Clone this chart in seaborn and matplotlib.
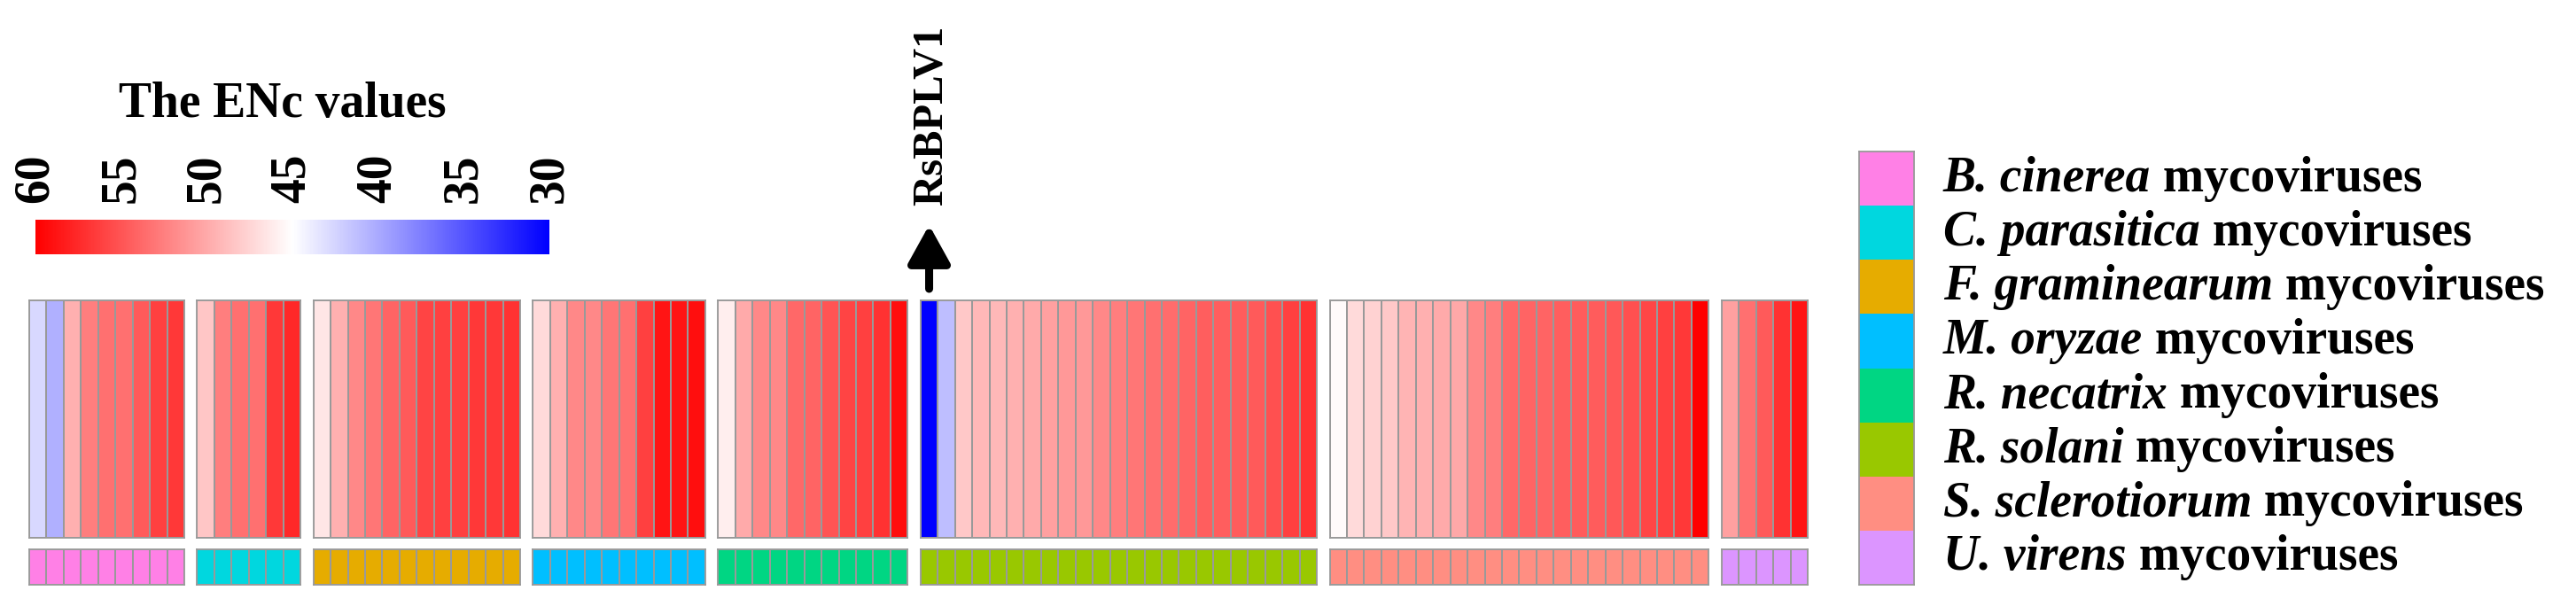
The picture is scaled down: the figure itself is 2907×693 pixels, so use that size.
import numpy as np
import matplotlib
matplotlib.use('Agg')
import matplotlib.pyplot as plt
import matplotlib.transforms as mtransforms
from matplotlib.colors import LinearSegmentedColormap, ListedColormap
import seaborn as sns

# host groups (order as in legend and heatmap)
hosts = ['B. cinerea', 'C. parasitica', 'F. graminearum', 'M. oryzae',
         'R. necatrix', 'R. solani', 'S. sclerotiorum', 'U. virens']
host_colors = ['#FF80E6', '#00D7DF', '#E6AC00', '#00BFFF',
               '#00D683', '#99C800', '#FF8E82', '#DC95FF']

# ENc values
enc_bc = [42.7, 40.4, 49.6, 52.5, 53.4, 53.4, 54.7, 56.2, 56.7]
enc_cp = [48.3, 52.5, 53.4, 53.4, 56.7, 57.6]
enc_fg = [46.5, 49.6, 52.0, 53.0, 54.1, 54.7, 55.9, 56.2, 56.2, 56.7, 56.7, 57.0]
enc_mo = [47.2, 49.6, 52.0, 52.0, 53.0, 53.4, 56.2, 58.8, 58.8, 59.1]
enc_rn = [46.0, 50.0, 52.0, 52.0, 53.9, 54.1, 55.0, 55.9, 56.2, 57.0, 59.1]
enc_rs = [30.0, 41.2, 48.2, 49.2, 49.2, 49.6, 50.0, 50.6, 51.0, 51.0, 52.0, 52.5,
          53.0, 53.4, 53.6, 54.1, 54.4, 54.4, 54.6, 54.7, 55.3, 56.2, 57.0]
enc_ss = [45.3, 47.2, 47.6, 48.2, 49.4, 49.6, 50.0, 50.1, 52.0, 52.5, 53.9, 54.1,
          54.1, 54.4, 54.6, 54.6, 54.8, 55.3, 55.8, 56.2, 56.7, 60.0]
enc_uv = [50.6, 53.4, 54.7, 57.0, 58.8]
groups = [enc_bc, enc_cp, enc_fg, enc_mo, enc_rn, enc_rs, enc_ss, enc_uv]

cbar_ticks = [30, 35, 40, 45, 50, 55, 60]
marked = 'RsBPLV1'
marked_group = 5

W, H = 2907, 693
sns.set_style('white')
plt.rcParams['font.family'] = ['Liberation Serif', 'DejaVu Serif']
plt.rcParams['font.weight'] = 'bold'
plt.rcParams['text.color'] = 'black'
plt.rcParams['xtick.color'] = 'black'
fig = plt.figure(figsize=(W / 100, H / 100), dpi=100)

cmap = LinearSegmentedColormap.from_list('enc', ['#0000FF', '#FFFFFF', '#FF0000'])
grey = '#999999'


def px_axes(x0, y0, x1, y1):
    # pixel box measured from top-left
    return fig.add_axes([x0 / W, 1 - y1 / H, (x1 - x0) / W, (y1 - y0) / H])


def frame(ax):
    for s in ax.spines.values():
        s.set_visible(True)
        s.set_color(grey)
        s.set_linewidth(1.3)


left, right, gap = 33, 2040, 14.5
ncell = sum(len(g) for g in groups)
cw = (right - left - gap * (len(groups) - 1)) / ncell

cax = px_axes(40, 248, 620, 287)
x = left
heat_axes = []
for i, vals in enumerate(groups):
    n = len(vals)
    ax = px_axes(x, 339, x + n * cw, 607)
    sns.heatmap(np.array([vals]), ax=ax, cmap=cmap, vmin=30, vmax=60,
                cbar=(i == 0), cbar_ax=cax if i == 0 else None,
                cbar_kws={'orientation': 'horizontal', 'ticks': cbar_ticks},
                linewidths=1.3, linecolor=grey, xticklabels=False, yticklabels=False)
    frame(ax)
    heat_axes.append(ax)

    sax = px_axes(x, 620, x + n * cw, 660)
    sns.heatmap(np.full((1, n), i), ax=sax, cmap=ListedColormap(host_colors),
                vmin=-0.5, vmax=len(hosts) - 0.5, cbar=False,
                linewidths=1.3, linecolor=grey, xticklabels=False, yticklabels=False)
    frame(sax)
    x += n * cw + gap

# colour key
cb = heat_axes[0].collections[0].colorbar
cb.outline.set_visible(False)
cax.invert_xaxis()
cax.xaxis.set_ticks_position('top')
cax.tick_params(axis='x', length=0, pad=14, labelsize=40, labelrotation=90,
                labelcolor='black')
for t in cax.get_xticklabels():
    t.set_fontweight('bold')
fig.text(319 / W, 1 - 118 / H, 'The ENc values', ha='center', va='center',
         fontsize=40, fontweight='bold')

# marker for RsBPLV1
sax = heat_axes[marked_group]
tr = mtransforms.blended_transform_factory(sax.transData, fig.transFigure)
sax.annotate('', xy=(0.5, 1 - 254 / H), xytext=(0.5, 1 - 326 / H), xycoords=tr,
             textcoords=tr, annotation_clip=False,
             arrowprops=dict(arrowstyle='-|>,head_length=0.65,head_width=0.36',
                             lw=6.5, color='black', mutation_scale=40,
                             shrinkA=0, shrinkB=0))
sax.text(0.6, 1 - 232 / H, marked, transform=tr, rotation=90, ha='center',
         va='bottom', fontsize=35, fontweight='bold')

# host legend
lax = px_axes(2098, 171, 2160, 660)
sns.heatmap(np.arange(len(hosts)).reshape(-1, 1), ax=lax, cmap=ListedColormap(host_colors),
            vmin=-0.5, vmax=len(hosts) - 0.5, cbar=False, linewidths=0,
            xticklabels=False, yticklabels=False)
frame(lax)
row_h = (660 - 171) / len(hosts)
for k, name in enumerate(hosts):
    yc = 171 + (k + 0.5) * row_h
    t = fig.text(2193 / W, 1 - yc / H, name, ha='left', va='center',
                 fontsize=40, fontweight='bold', style='italic')
    lax.annotate(' mycoviruses', xy=(1, 0), xycoords=t, ha='left', va='bottom',
                 fontsize=40, fontweight='bold', annotation_clip=False)

fig.savefig('out.png', dpi=100)
